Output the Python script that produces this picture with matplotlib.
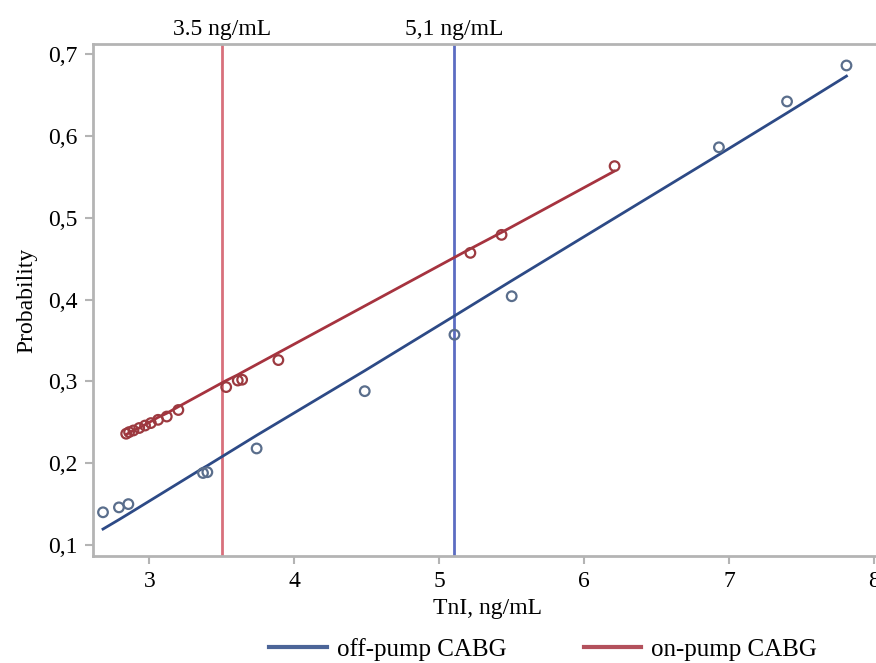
import matplotlib.pyplot as plt
from matplotlib.lines import Line2D

plt.rcParams['font.family'] = ['Liberation Serif', 'DejaVu Serif']

# off-pump CABG: observed points and fitted probability
off_tni = [2.68, 2.79, 2.855, 3.37, 3.40, 3.74, 4.486, 5.105, 5.50, 6.93, 7.40, 7.81]
off_prob = [0.140, 0.146, 0.150, 0.188, 0.189, 0.218, 0.288, 0.357, 0.404, 0.586, 0.642, 0.686]
off_fit = [0.1195, 0.131, 0.138, 0.194, 0.197, 0.234, 0.313, 0.380, 0.423, 0.577, 0.628, 0.673]

# on-pump CABG
on_tni = [2.84, 2.86, 2.89, 2.93, 2.97, 3.01, 3.06, 3.12, 3.20, 3.53, 3.61, 3.64,
          3.89, 5.215, 5.43, 6.21]
on_prob = [0.236, 0.238, 0.240, 0.243, 0.246, 0.249, 0.253, 0.257, 0.265, 0.293,
           0.301, 0.302, 0.326, 0.457, 0.479, 0.563]
on_fit = [0.235, 0.237, 0.240, 0.243, 0.247, 0.251, 0.256, 0.261, 0.269, 0.301,
          0.308, 0.311, 0.335, 0.462, 0.482, 0.557]

cutoffs = [3.5, 5.1]
cutoff_labels = ['3.5 ng/mL', '5,1 ng/mL']

x_ticks = [3, 4, 5, 6, 7, 8]
y_ticks = [0.1, 0.2, 0.3, 0.4, 0.5, 0.6, 0.7]

blue = '#2D4A86'
red = '#A6333F'
blue_pt = '#5A6E8C'
red_pt = '#9C3A40'
blue_cut = '#5C6CC2'
red_cut = '#D8707C'
grey = '#B4B4B4'
fs = 17

fig = plt.figure(figsize=(8.76, 6.63), dpi=100)
ax = fig.add_axes([0.106, 0.1614, 0.90, 0.7722])

ax.axvline(cutoffs[0], color=red_cut, lw=2, zorder=1)
ax.axvline(cutoffs[1], color=blue_cut, lw=2, zorder=1)

ax.plot(off_tni, off_fit, color=blue, lw=2, zorder=2)
ax.plot(on_tni, on_fit, color=red, lw=2, zorder=2)
ax.scatter(off_tni, off_prob, s=48, facecolors='none', edgecolors=blue_pt, linewidths=1.6, zorder=3)
ax.scatter(on_tni, on_prob, s=48, facecolors='none', edgecolors=red_pt, linewidths=1.6, zorder=3)

ax.set_xlim(2.61, 8.05)
ax.set_ylim(0.0866, 0.7122)
ax.set_xticks(x_ticks)
ax.set_yticks(y_ticks)
ax.set_yticklabels([f'{v:.1f}'.replace('.', ',') for v in y_ticks])

for s in ax.spines.values():
    s.set_color(grey)
    s.set_linewidth(2)
ax.tick_params(axis='both', color=grey, width=1.5, length=6, labelsize=fs, pad=5)

for xc, lab in zip(cutoffs, cutoff_labels):
    ax.text(xc, 1.008, lab, transform=ax.get_xaxis_transform(), ha='center', va='bottom',
            fontsize=fs)

ax.set_xlabel('TnI, ng/mL', fontsize=fs, labelpad=4)
ax.set_ylabel('Probability', fontsize=fs, labelpad=8)

handles = [Line2D([], [], color=blue, lw=3, alpha=0.85),
           Line2D([], [], color=red, lw=3, alpha=0.85)]
fig.legend(handles, ['off-pump CABG', 'on-pump CABG'], loc='center',
           bbox_to_anchor=(0.62, 0.02), ncol=2, frameon=False, fontsize=18,
           handlelength=2.3, columnspacing=3.1, handletextpad=0.4)

fig.savefig('out.png', dpi=100)
